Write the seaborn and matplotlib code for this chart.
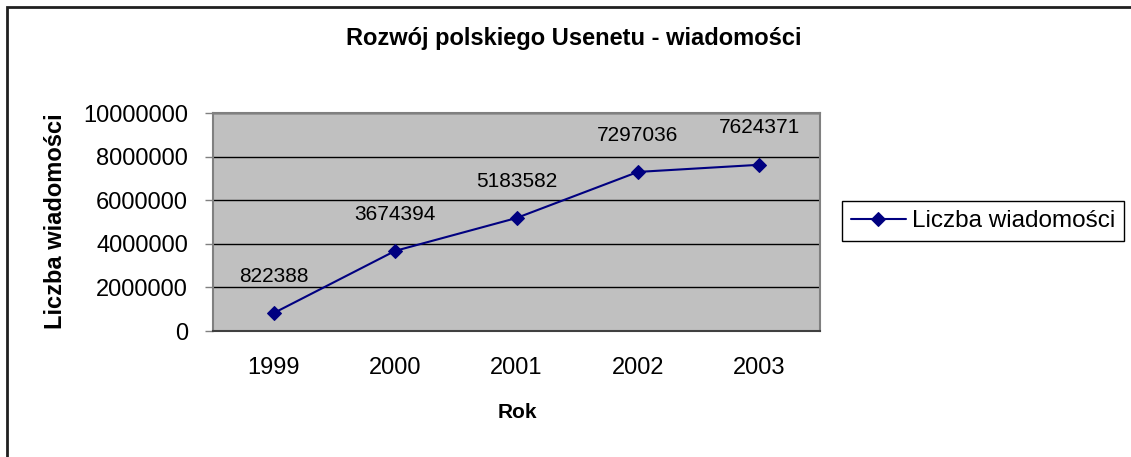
import numpy as np
import pandas as pd
import matplotlib
matplotlib.use('Agg')
import matplotlib.pyplot as plt
import seaborn as sns
from matplotlib.patches import Rectangle

# data
years = ['1999', '2000', '2001', '2002', '2003']
messages = [822388, 3674394, 5183582, 7297036, 7624371]
yticks = [0, 2000000, 4000000, 6000000, 8000000, 10000000]

df = pd.DataFrame({'Rok': np.arange(len(years)), 'Liczba wiadomości': messages})

sns.set_style('white')
plt.rcParams['font.family'] = ['Liberation Sans', 'DejaVu Sans']
plt.rcParams['text.color'] = 'black'

fig = plt.figure(figsize=(11.31, 4.57), dpi=100)
ax = fig.add_axes([213 / 1131, 1 - 331 / 457, 607 / 1131, 218 / 457])
ax.set_facecolor('#C0C0C0')

sns.lineplot(data=df, x='Rok', y='Liczba wiadomości', ax=ax, color='#000080',
             marker='D', markersize=7.5, markeredgecolor='#000080', linewidth=1.5,
             label='Liczba wiadomości', legend=False)

for x, v in zip(df['Rok'], messages):
    ax.annotate(str(v), (x, v), xytext=(0, 26.5), textcoords='offset points',
                ha='center', va='center', fontsize=15, color='black')

ax.set_xlim(-0.5, len(years) - 0.5)
ax.set_ylim(0, 10000000)
ax.set_yticks(yticks)
ax.set_yticklabels([str(t) for t in yticks], fontsize=17)
ax.set_xticks(np.arange(len(years)))
ax.set_xticklabels(years, fontsize=17)
ax.set_xticks(np.arange(-0.5, len(years)), minor=True)
ax.tick_params(axis='x', which='major', length=0, pad=19, labelcolor='black')
ax.tick_params(axis='x', which='minor', length=6, width=1, color='#808080', direction='out')
ax.tick_params(axis='y', length=6, width=1, color='#808080', direction='out', pad=12,
               left=True, labelcolor='black')
ax.grid(axis='y', color='black', linewidth=1)
ax.set_axisbelow(True)
for s in ax.spines.values():
    s.set_visible(True)
    s.set_color('#808080')
    s.set_linewidth(1.5)
ax.spines['bottom'].set_color('#404040')

ax.set_xlabel('')
ax.set_ylabel('')
fig.text(517 / 1131, 1 - 412 / 457, 'Rok', ha='center', va='center',
         fontsize=15, fontweight='bold')
fig.text(56 / 1131, 1 - 221 / 457, 'Liczba wiadomości', ha='center', va='center',
         rotation=90, fontsize=17, fontweight='bold')
fig.text(574 / 1131, 1 - 38 / 457, 'Rozwój polskiego Usenetu - wiadomości',
         ha='center', va='center', fontsize=17, fontweight='bold')

handles, labels = ax.get_legend_handles_labels()
leg = fig.legend(handles, labels, loc='center left', bbox_to_anchor=(842 / 1131, 1 - 221 / 457),
                 fontsize=17.5, frameon=True, fancybox=False, framealpha=1,
                 edgecolor='black', handlelength=2.3, borderpad=0.35,
                 handletextpad=0.25, borderaxespad=0)
leg.get_frame().set_linewidth(1)

# outer chart border (top and left edges visible)
fig.patches.append(Rectangle((7 / 1131, -0.2), 1.2, 1.2 - 7 / 457,
                             transform=fig.transFigure, fill=False,
                             edgecolor='#202020', linewidth=2))

fig.savefig('out.png', dpi=100)
